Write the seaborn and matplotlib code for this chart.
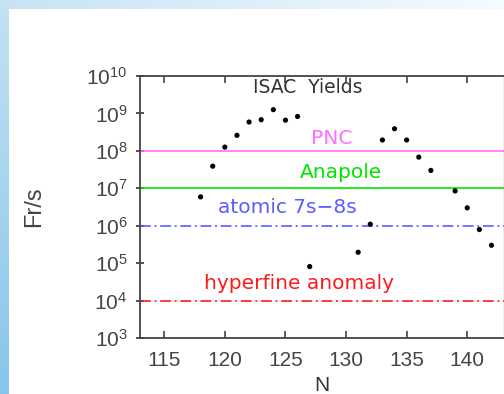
import numpy as np
import pandas as pd
import matplotlib
matplotlib.use("Agg")
import matplotlib.pyplot as plt
import seaborn as sns
from matplotlib.colors import to_rgb
from matplotlib.ticker import FixedLocator, LogLocator, NullFormatter, FixedFormatter

# ISAC francium yields versus neutron number
neutron_number = [118, 119, 120, 121, 122, 123, 124, 125, 126, 127,
                  131, 132, 133, 134, 135, 136, 137, 139, 140, 141, 142]
yield_per_s = [5.9e6, 3.9e7, 1.26e8, 2.6e8, 5.9e8, 6.8e8, 1.26e9, 6.6e8, 8.3e8, 8.1e4,
               1.95e5, 1.1e6, 1.95e8, 3.9e8, 1.95e8, 6.8e7, 3.0e7, 8.5e6, 3.0e6, 7.9e5, 3.0e5]

# Required rates for the planned experiments
goal_labels = ["PNC", "Anapole", "atomic 7s\u22128s", "hyperfine anomaly"]
goal_rates = [1e8, 1e7, 1e6, 1e4]

x_ticks = [115, 120, 125, 130, 135, 140]
y_decades = [3, 4, 5, 6, 7, 8, 9, 10]

sns.set_theme(style="white")
plt.rcParams["font.family"] = ["Liberation Sans", "DejaVu Sans"]
plt.rcParams["mathtext.fontset"] = "custom"
plt.rcParams["mathtext.rm"] = "Liberation Sans"
plt.rcParams["mathtext.it"] = "Liberation Sans:italic"

W, H = 504, 394
fig = plt.figure(figsize=(W / 100, H / 100), dpi=100)
fig.patch.set_facecolor("white")

# slide frame: pale blue bands along the top and left edges
def gradient_band(rect, c0, c1, vertical):
    bax = fig.add_axes(rect)
    t = np.linspace(0, 1, 256)
    a, b = np.array(to_rgb(c0)), np.array(to_rgb(c1))
    g = a[None, :] * (1 - t[:, None]) + b[None, :] * t[:, None]
    img = g[:, None, :] if vertical else g[None, :, :]
    bax.imshow(img, aspect="auto", extent=(0, 1, 0, 1), origin="upper")
    bax.set_axis_off()

gradient_band([0, 1 - 9 / H, 1, 9 / H], "#c6e3f4", "#f6fbfe", vertical=False)
gradient_band([0, 0, 9 / W, 1 - 9 / H], "#c2e1f3", "#86c6eb", vertical=True)

ax = fig.add_axes([140 / W, 1 - 338 / H, 363.6 / W, 262 / H])
df = pd.DataFrame({"N": neutron_number, "rate": yield_per_s})

line_styles = [
    dict(color="#ff70ff", ls="-"),
    dict(color="#00e600", ls="-"),
    dict(color="#5c5cff", ls=(0, (6.5, 2.2, 1.2, 2.2))),
    dict(color="#ff1a1a", ls=(0, (6.5, 2.2, 1.2, 2.2))),
]
for rate, st in zip(goal_rates, line_styles):
    ax.axhline(rate, color=st["color"], ls=st["ls"], lw=1.2, zorder=1)

sns.scatterplot(data=df, x="N", y="rate", ax=ax, color="black", s=14,
                edgecolor="none", zorder=3, legend=False)

ax.set_yscale("log")
ax.set_xlim(113, 143)
ax.set_ylim(1e3, 1e10)

# text labels
ax.text(126.86, 10 ** 9.706, "ISAC  Yields", color="#333333", fontsize=13.5,
        family="DejaVu Sans", ha="center", va="center")
label_pos = [(128.84, 8.32), (129.58, 7.43), (125.13, 6.50), (126.12, 4.465)]
for (lx, ly), lab, st in zip(label_pos, goal_labels, line_styles):
    ax.text(lx, 10 ** ly, lab, color=st["color"], fontsize=14.5,
            family="DejaVu Sans", ha="center", va="center")

# axes styling
for side in ["left", "bottom", "top"]:
    ax.spines[side].set_color("#444444")
    ax.spines[side].set_linewidth(1.3)
ax.spines["right"].set_color("#aaaaaa")
ax.spines["right"].set_linewidth(1.0)

ax.xaxis.set_major_locator(FixedLocator(x_ticks))
ax.set_xticklabels([str(v) for v in x_ticks])
ax.yaxis.set_major_locator(FixedLocator([10.0 ** d for d in y_decades]))
ax.yaxis.set_major_formatter(FixedFormatter([f"$10^{{{d}}}$" for d in y_decades]))
ax.yaxis.set_minor_locator(LogLocator(base=10, subs=np.arange(2, 10)))
ax.yaxis.set_minor_formatter(NullFormatter())

ax.tick_params(axis="x", which="major", direction="in", length=5, width=1.1,
               color="#333333", top=True, bottom=True, labelsize=15,
               labelcolor="#444444", pad=9)
ax.tick_params(axis="y", which="major", direction="inout", length=6, width=1.1,
               color="#222222", left=True, right=False, labelsize=15,
               labelcolor="#444444", pad=6)
ax.tick_params(axis="y", which="minor", direction="inout", length=4, width=0.9,
               color="#222222", left=True, right=False)

ax.set_xlabel("N", fontsize=15, color="#333333", labelpad=5)
ax.set_ylabel("Fr/s", fontsize=17, color="#444444", labelpad=30)
ax.grid(False)

fig.savefig("out.png", dpi=100)
